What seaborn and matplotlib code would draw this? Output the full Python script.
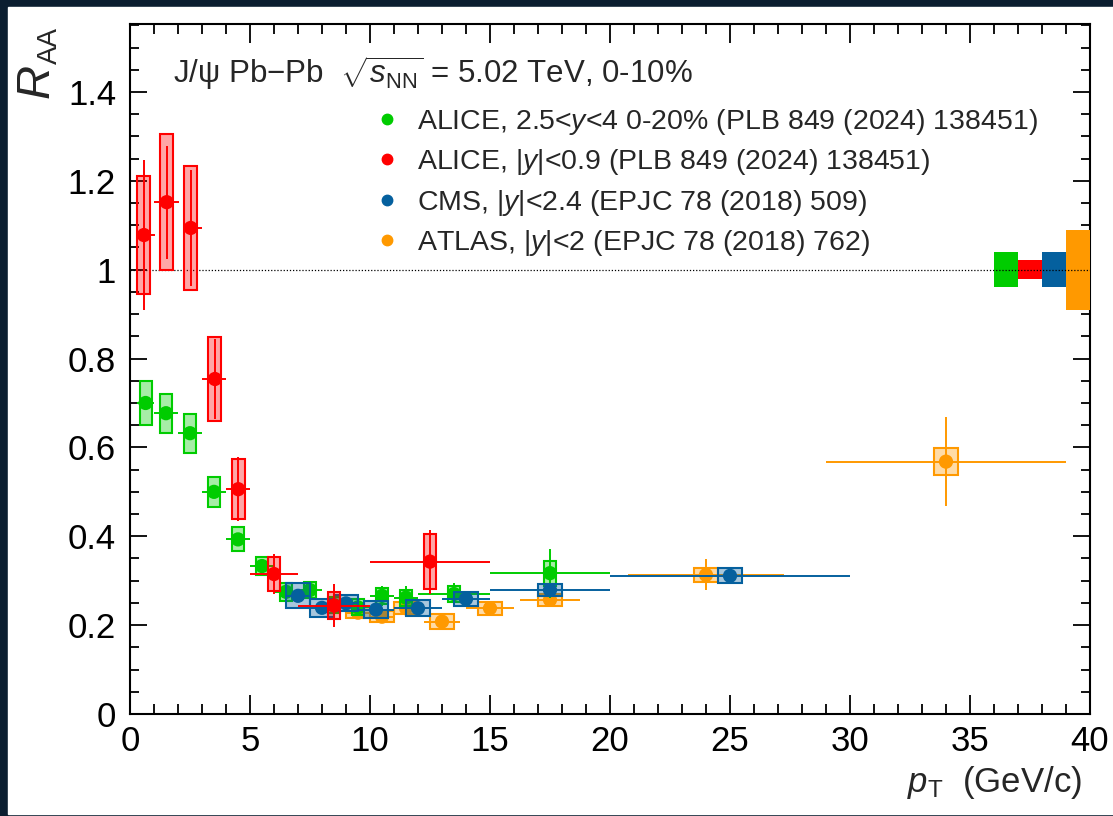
import numpy as np
import pandas as pd
import matplotlib
matplotlib.use("Agg")
import matplotlib.pyplot as plt
import seaborn as sns
from matplotlib.lines import Line2D
from matplotlib.patches import Rectangle
from matplotlib.ticker import MultipleLocator, FuncFormatter
from matplotlib.colors import to_rgba

# ALICE forward, 2.5<y<4, 0-20%
green_pt = [0.65, 1.5, 2.5, 3.5, 4.5, 5.5, 6.5, 7.5, 8.5, 9.5, 10.5, 11.5, 13.5, 17.5]
green_lo = [0.3, 1, 2, 3, 4, 5, 6, 7, 8, 9, 10, 11, 12, 15]
green_hi = [1, 2, 3, 4, 5, 6, 7, 8, 9, 10, 11, 12, 15, 20]
green_raa = [0.700, 0.677, 0.632, 0.500, 0.393, 0.333, 0.275, 0.279, 0.245, 0.240, 0.266, 0.262, 0.270, 0.317]
green_stat = [0.012, 0.012, 0.012, 0.010, 0.010, 0.010, 0.012, 0.015, 0.018, 0.018, 0.022, 0.025, 0.025, 0.055]
green_sys = [0.050, 0.044, 0.044, 0.034, 0.027, 0.021, 0.020, 0.019, 0.018, 0.018, 0.018, 0.018, 0.018, 0.028]

# ALICE mid-rapidity |y|<0.9
red_pt = [0.58, 1.53, 2.53, 3.54, 4.51, 6.0, 8.5, 12.5]
red_lo = [0.3, 1.0, 2.25, 3.0, 4.0, 5.0, 7.0, 10.0]
red_hi = [1.05, 2.05, 3.0, 4.0, 5.0, 7.0, 10.0, 15.0]
red_raa = [1.078, 1.152, 1.094, 0.754, 0.506, 0.315, 0.244, 0.343]
red_stat = [0.168, 0.127, 0.130, 0.090, 0.072, 0.045, 0.048, 0.072]
red_sys = [0.132, 0.153, 0.140, 0.095, 0.068, 0.039, 0.031, 0.062]

# CMS |y|<2.4
blue_pt = [7.0, 8.0, 9.0, 10.25, 12.0, 14.0, 17.5, 25.0]
blue_lo = [6.5, 7.5, 8.5, 9.5, 11.0, 13.0, 15.0, 20.0]
blue_hi = [7.5, 8.5, 9.5, 11.0, 13.0, 15.0, 20.0, 30.0]
blue_raa = [0.266, 0.239, 0.249, 0.235, 0.238, 0.259, 0.279, 0.311]
blue_stat = [0.006, 0.006, 0.006, 0.006, 0.006, 0.007, 0.008, 0.012]
blue_sys = [0.028, 0.020, 0.018, 0.019, 0.018, 0.015, 0.013, 0.017]

# ATLAS |y|<2
orange_pt = [9.5, 10.5, 11.5, 13.0, 15.0, 17.5, 24.0, 34.0]
orange_lo = [9.0, 10.0, 11.0, 12.25, 14.0, 16.25, 20.75, 29.0]
orange_hi = [10.0, 11.0, 12.0, 13.75, 16.0, 18.75, 27.25, 39.0]
orange_raa = [0.228, 0.219, 0.238, 0.208, 0.238, 0.257, 0.313, 0.568]
orange_stat = [0.010, 0.010, 0.012, 0.012, 0.012, 0.015, 0.035, 0.100]
orange_sys = [0.012, 0.012, 0.014, 0.016, 0.015, 0.013, 0.016, 0.030]

# global normalisation uncertainties drawn at RAA = 1
glob_x = [36.5, 37.5, 38.5, 39.5]
glob_err = [0.040, 0.022, 0.040, 0.090]

labels = [
    r"ALICE, 2.5<$y$<4 0-20% (PLB 849 (2024) 138451)",
    r"ALICE, |$y$|<0.9 (PLB 849 (2024) 138451)",
    r"CMS, |$y$|<2.4 (EPJC 78 (2018) 509)",
    r"ATLAS, |$y$|<2 (EPJC 78 (2018) 762)",
]
colors = ["#00cc00", "#ff0000", "#05609e", "#ff9900"]

sns.set_style("ticks")
plt.rcParams["font.family"] = ["Liberation Sans", "DejaVu Sans"]
plt.rcParams["mathtext.fontset"] = "custom"
plt.rcParams["mathtext.rm"] = "Liberation Sans"
plt.rcParams["mathtext.it"] = "Liberation Sans:italic"
plt.rcParams["mathtext.bf"] = "Liberation Sans:bold"

W, H = 1113, 816
fig = plt.figure(figsize=(W / 100, H / 100), dpi=100, facecolor="#0b1e30")
fig.patches.append(Rectangle((8 / W, 2 / H), (W - 8) / W, (809 - 2) / H,
                             transform=fig.transFigure, color="white", zorder=-10))
ax = fig.add_axes([130 / W, (H - 714) / H, 960 / W, 690 / H])
ax.set_facecolor("white")

series = [
    (green_pt, green_lo, green_hi, green_raa, green_stat, green_sys, 0.25, 2),
    (red_pt, red_lo, red_hi, red_raa, red_stat, red_sys, 0.27, 8),
    (blue_pt, blue_lo, blue_hi, blue_raa, blue_stat, blue_sys, 0.5, 6),
    (orange_pt, orange_lo, orange_hi, orange_raa, orange_stat, orange_sys, 0.5, 0),
]

for (pt, lo, hi, raa, stat, sys_, hw, z), col in zip(series, colors):
    pt = np.array(pt); raa = np.array(raa); sys_ = np.array(sys_)
    xerr = [pt - np.array(lo), np.array(hi) - pt]
    ax.errorbar(pt, raa, xerr=xerr, yerr=stat, fmt="none", ecolor=col,
                elinewidth=1.4, capsize=0, zorder=z + 1)
    ax.bar(pt, 2 * sys_, bottom=raa - sys_, width=2 * hw,
           color=to_rgba(col, 0.35), edgecolor=col, linewidth=1.5, zorder=z)
    df = pd.DataFrame({"pt": pt, "raa": raa})
    sns.scatterplot(data=df, x="pt", y="raa", color=col, s=105,
                    edgecolor="none", ax=ax, zorder=z + 1.5)

ax.bar(glob_x, 2 * np.array(glob_err), bottom=1 - np.array(glob_err), width=1.0,
       color=colors, edgecolor="none", zorder=3)
ax.axhline(1, ls=(0, (1, 1.5)), color="black", lw=0.9, zorder=4)

ax.set_xlim(0, 40)
ax.set_ylim(0, 1.553)
ax.xaxis.set_major_locator(MultipleLocator(5))
ax.xaxis.set_minor_locator(MultipleLocator(1))
ax.yaxis.set_major_locator(MultipleLocator(0.2))
ax.yaxis.set_minor_locator(MultipleLocator(0.05))
ax.yaxis.set_major_formatter(FuncFormatter(lambda v, p: f"{v:g}"))
ax.tick_params(which="both", direction="in", top=True, right=True, width=1.3,
               colors="black")
ax.tick_params(axis="x", which="major", length=14, labelsize=25, pad=8)
ax.tick_params(axis="x", which="minor", length=7)
ax.tick_params(axis="y", which="major", length=12, labelsize=25, pad=10)
ax.tick_params(axis="y", which="minor", length=6.5)
for sp in ax.spines.values():
    sp.set_linewidth(1.5)
    sp.set_color("black")
ax.set_xlabel("")
ax.set_ylabel("")

# axis titles
fig.text(37 / W, 1 - 81 / H, "R", fontsize=34, style="italic", rotation=90,
         ha="center", va="center")
fig.text(50 / W, 1 - 45 / H, "AA", fontsize=20, rotation=90,
         ha="center", va="center")
fig.text(1082 / W, 1 - 792 / H, r"$p_{\rm T}$  (GeV/c)", fontsize=25,
         ha="right", va="baseline")

# header
fig.text(173 / W, 1 - 83 / H, r"J/ψ Pb−Pb  $\sqrt{s_{\rm NN}}$ = 5.02 TeV, 0-10%",
         fontsize=22.5, ha="left", va="baseline")

handles = [Line2D([], [], marker="o", ls="none", color=c, markersize=7.5) for c in colors]
ax.legend(handles, labels, loc="upper left", bbox_to_anchor=(376 / W, 1 - 107 / H),
          bbox_transform=fig.transFigure, frameon=False, fontsize=20.5,
          handlelength=0.8, handletextpad=0.65, borderpad=0, borderaxespad=0,
          labelspacing=0.36)

fig.savefig("out.png", dpi=100, facecolor=fig.get_facecolor())
